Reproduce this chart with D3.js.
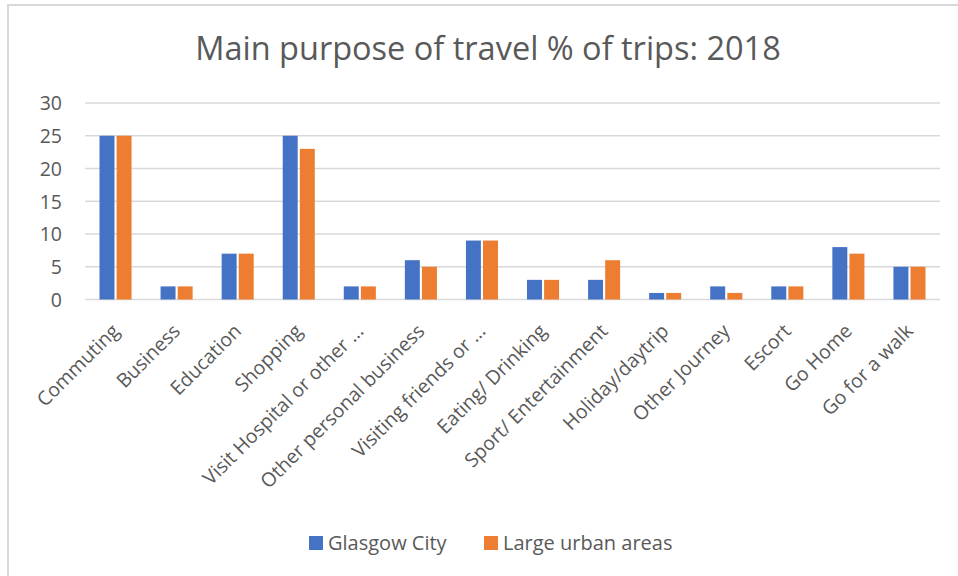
<!DOCTYPE html>
<html>
<head>
<meta charset="utf-8">
<script src="https://cdn.jsdelivr.net/npm/d3@7"></script>
<style>
  html, body { margin: 0; padding: 0; background: #fff; }
  svg { display: block; font-family: "Open Sans", "Noto Sans", sans-serif; }
</style>
</head>
<body>
<svg id="chart" width="958" height="576"></svg>
<script>
const categories = [
  "Commuting", "Business", "Education", "Shopping", "Visit Hospital or other …",
  "Other personal business", "Visiting friends or …", "Eating/ Drinking",
  "Sport/ Entertainment", "Holiday/daytrip", "Other Journey", "Escort",
  "Go Home", "Go for a walk"
];
const seriesNames = ["Glasgow City", "Large urban areas"];
const glasgowCity = [25, 2, 7, 25, 2, 6, 9, 3, 3, 1, 2, 2, 8, 5];
const largeUrban  = [25, 2, 7, 23, 2, 5, 9, 3, 6, 1, 1, 2, 7, 5];
const yTicks = [0, 5, 10, 15, 20, 25, 30];
const colors = ["#4472C4", "#ED7D31"];
const titleText = "Main purpose of travel % of trips: 2018";

const svg = d3.select("#chart");
const textColor = "#595959";

// outer chart frame
svg.append("rect")
  .attr("x", 8).attr("y", 5).attr("width", 960).attr("height", 580)
  .attr("fill", "none").attr("stroke", "#d9d9d9").attr("stroke-width", 2);

const plot = { left: 85, right: 940, top: 103, bottom: 299.5 };

const x = d3.scaleBand().domain(categories)
  .range([plot.left, plot.right]).paddingInner(0.475).paddingOuter(0.2375);
const sub = d3.scaleBand().domain(seriesNames)
  .range([0, x.bandwidth()]).paddingInner(0.125);
const y = d3.scaleLinear().domain([0, 30]).range([plot.bottom, plot.top]);

// gridlines
svg.append("g").selectAll("line").data(yTicks).join("line")
  .attr("x1", plot.left).attr("x2", plot.right)
  .attr("y1", d => y(d)).attr("y2", d => y(d))
  .attr("stroke", "#d9d9d9").attr("stroke-width", 1.5);

// y axis labels
const yAxis = d3.axisLeft(y).tickValues(yTicks).tickSize(0).tickPadding(0);
const gy = svg.append("g").attr("transform", `translate(62,0)`).call(yAxis);
gy.select(".domain").remove();
gy.selectAll("text").attr("fill", textColor)
  .style("font-size", "19.5px").style("font-family", "'Open Sans', sans-serif")
  .attr("dy", "0.35em");

// bars
const data = categories.map((c, i) => ({ cat: c, vals: [glasgowCity[i], largeUrban[i]] }));
const groups = svg.append("g").selectAll("g").data(data).join("g")
  .attr("transform", d => `translate(${x(d.cat)},0)`);
groups.selectAll("rect").data(d => d.vals.map((v, j) => ({ name: seriesNames[j], v, j })))
  .join("rect")
  .attr("x", d => sub(d.name))
  .attr("width", sub.bandwidth())
  .attr("y", d => y(d.v))
  .attr("height", d => y(0) - y(d.v))
  .attr("fill", d => colors[d.j]);

// x axis labels, rotated
const xAxis = d3.axisBottom(x).tickSize(0).tickPadding(0);
const gx = svg.append("g").attr("transform", `translate(0,${plot.bottom})`).call(xAxis);
gx.select(".domain").remove();
gx.selectAll("text")
  .attr("fill", textColor)
  .style("font-size", "19.5px").style("font-family", "'Open Sans', sans-serif")
  .attr("text-anchor", "end")
  .attr("dy", "0.35em")
  .attr("transform", "translate(0,28) rotate(-45)")
  .attr("y", 0).attr("x", 0);

// title
svg.append("text")
  .attr("x", 488).attr("y", 60)
  .attr("text-anchor", "middle")
  .attr("fill", textColor)
  .style("font-size", "32.5px")
  .text(titleText);

// legend
const legendX = [309, 484];
const lg = svg.append("g").selectAll("g").data(seriesNames).join("g")
  .attr("transform", (d, i) => `translate(${legendX[i]},536)`);
lg.append("rect").attr("width", 14).attr("height", 14).attr("fill", (d, i) => colors[i]);
lg.append("text").attr("x", 19).attr("y", 7).attr("dy", "0.35em")
  .attr("fill", textColor).style("font-size", "20px").text(d => d);
</script>
</body>
</html>
